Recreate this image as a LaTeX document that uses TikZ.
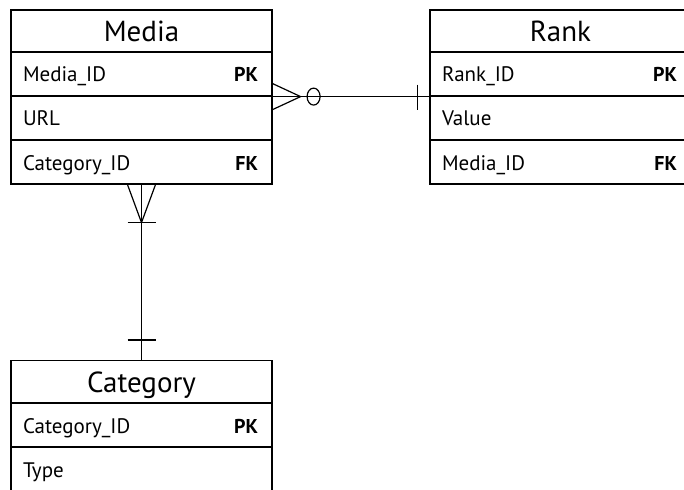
\documentclass[tikz,border=0pt]{standalone}
\usepackage{fontspec}
\setmainfont{PT Sans}
\begin{document}
\begin{tikzpicture}[x=1pt, y=-1pt, line width=1.2pt,
  titleStyle/.style={rectangle, draw, minimum width=261pt, minimum height=42pt, inner sep=0pt, text height=22pt, text depth=0pt, font=\fontsize{29}{32}\selectfont},
  rowStyle/.style={rectangle, draw, minimum width=261pt, minimum height=44pt, inner sep=0pt},
  fieldStyle/.style={anchor=base west, inner sep=0pt, font=\fontsize{21}{24}\selectfont},
  keyStyle/.style={anchor=base east, inner sep=0pt, font=\fontsize{20}{24}\selectfont\bfseries}]
  \useasboundingbox (0,0) rectangle (684,489);

  % Media table
  \node[titleStyle] (media_title) at (141.5, 31) {Media};
  \node[rowStyle]   (media_0)     at (141.5, 74) {};
  \node[rowStyle]   (media_1)     at (141.5, 118) {};
  \node[rowStyle]   (media_2)     at (141.5, 162) {};
  \node[fieldStyle] (media_0f)    at ([xshift=12pt, yshift=-8pt]media_0.west) {Media\_ID};
  \node[fieldStyle] (media_1f)    at ([xshift=12pt, yshift=-8pt]media_1.west) {URL};
  \node[fieldStyle] (media_2f)    at ([xshift=12pt, yshift=-8pt]media_2.west) {Category\_ID};
  \node[keyStyle]   (media_0k)    at ([xshift=-14pt, yshift=-8pt]media_0.east) {PK};
  \node[keyStyle]   (media_2k)    at ([xshift=-14pt, yshift=-8pt]media_2.east) {FK};

  % Rank table
  \node[titleStyle] (rank_title) at (560.5, 31) {Rank};
  \node[rowStyle]   (rank_0)     at (560.5, 74) {};
  \node[rowStyle]   (rank_1)     at (560.5, 118) {};
  \node[rowStyle]   (rank_2)     at (560.5, 162) {};
  \node[fieldStyle] (rank_0f)    at ([xshift=12pt, yshift=-8pt]rank_0.west) {Rank\_ID};
  \node[fieldStyle] (rank_1f)    at ([xshift=12pt, yshift=-8pt]rank_1.west) {Value};
  \node[fieldStyle] (rank_2f)    at ([xshift=12pt, yshift=-8pt]rank_2.west) {Media\_ID};
  \node[keyStyle]   (rank_0k)    at ([xshift=-14pt, yshift=-8pt]rank_0.east) {PK};
  \node[keyStyle]   (rank_2k)    at ([xshift=-14pt, yshift=-8pt]rank_2.east) {FK};

  % Category table
  \node[titleStyle] (category_title) at (141.5, 381.5) {Category};
  \node[rowStyle]   (category_0)     at (141.5, 425) {};
  \node[rowStyle]   (category_1)     at (141.5, 469) {};
  \node[fieldStyle] (category_0f)    at ([xshift=12pt, yshift=-8pt]category_0.west) {Category\_ID};
  \node[fieldStyle] (category_1f)    at ([xshift=12pt, yshift=-8pt]category_1.west) {Type};
  \node[keyStyle]   (category_0k)    at ([xshift=-14pt, yshift=-8pt]category_0.east) {PK};

  % Media -- Rank
  \draw (media_0.south east) -- (rank_0.south west);
  \draw (media_0.south east) ++(0,-13) -- ++(28,13) -- ++(-28,13);
  \draw (media_0.south east) ++(41,0) ellipse [x radius=6.5pt, y radius=8.5pt];
  \draw (rank_0.south west) ++(-12,-12) -- ++(0,25);

  % Media -- Category
  \draw (media_2.south) -- (category_title.north);
  \draw (media_2.south) ++(-14,0) -- ++(14,38) -- ++(14,-38);
  \draw (media_2.south) ++(-14,38) -- ++(28,0);
  \draw (category_title.north) ++(-14,-20) -- ++(28,0);
\end{tikzpicture}
\end{document}
